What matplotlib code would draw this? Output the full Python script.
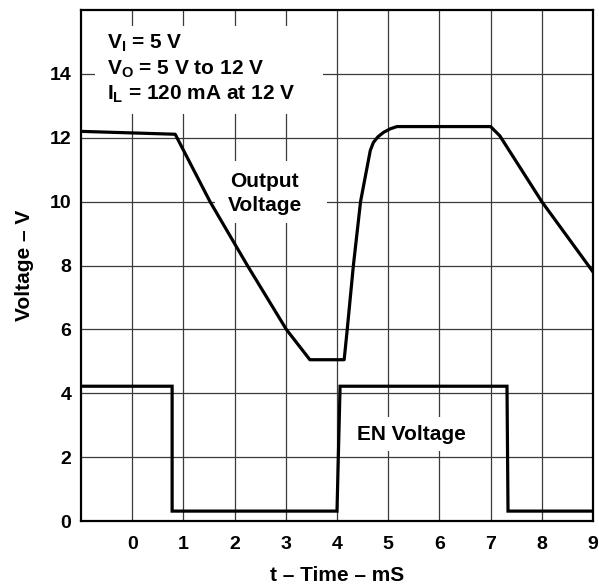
"""Output voltage / EN voltage transient vs time."""
import matplotlib
matplotlib.use("Agg")
import matplotlib.pyplot as plt
from matplotlib.patches import Rectangle

plt.rcParams["font.family"] = ["Liberation Sans", "DejaVu Sans"]
plt.rcParams["font.weight"] = "bold"
plt.rcParams["mathtext.fontset"] = "custom"
plt.rcParams["mathtext.rm"] = "Liberation Sans:bold"
plt.rcParams["mathtext.it"] = "Liberation Sans:bold"
plt.rcParams["mathtext.bf"] = "Liberation Sans:bold"

# data
out_t = [-1.0, 0.84, 1.52, 2.25, 3.01, 3.47, 4.14, 4.2, 4.32, 4.46, 4.55, 4.65, 4.71,
         4.8, 4.91, 5.04, 5.17, 7.0, 7.18, 8.0, 9.0]
out_v = [12.2, 12.11, 10.0, 8.0, 6.0, 5.05, 5.05, 6.0, 8.0, 10.0, 10.76, 11.6, 11.85,
         12.03, 12.17, 12.28, 12.35, 12.35, 12.06, 10.0, 7.8]

en_t = [-1.0, 0.78, 0.78, 4.0, 4.06, 7.32, 7.34, 9.0]
en_v = [4.22, 4.22, 0.31, 0.31, 4.22, 4.22, 0.31, 0.31]

x_ticks = list(range(0, 10))
y_ticks = [0, 2, 4, 6, 8, 10, 12, 14]

fig = plt.figure(figsize=(5.99, 5.85), dpi=100)
ax = fig.add_axes([0.1352, 0.1094, 0.8548, 0.8735])

ax.set_xlim(-1, 9)
ax.set_ylim(0, 16)
ax.set_xticks(x_ticks)
ax.set_yticks(y_ticks)
ax.tick_params(axis="x", length=0, labelsize=14, pad=11)
ax.tick_params(axis="y", length=0, labelsize=14, pad=7)
for lbl in ax.get_xticklabels() + ax.get_yticklabels():
    lbl.set_fontweight("bold")

# grid: every ms vertically, every 2 V horizontally
for xv in range(0, 9):
    ax.axvline(xv, color="#3a3a3a", lw=0.9, zorder=1)
for yv in range(2, 16, 2):
    ax.axhline(yv, color="#3a3a3a", lw=0.9, zorder=1)

for s in ax.spines.values():
    s.set_linewidth(1.6)
    s.set_zorder(5)

ax.plot(out_t, out_v, color="black", lw=2.3, zorder=4, solid_joinstyle="round")
ax.plot(en_t, en_v, color="black", lw=2.3, zorder=4, solid_joinstyle="miter")

# white boxes behind the labels
ax.add_patch(Rectangle((-0.73, 12.75), 4.46, 2.75, facecolor="white", edgecolor="none", zorder=2))
ax.add_patch(Rectangle((1.62, 9.34), 2.18, 1.94, facecolor="white", edgecolor="none", zorder=2))
ax.add_patch(Rectangle((4.1, 2.2), 2.7, 1.05, facecolor="white", edgecolor="none", zorder=2))

fs = 15
ax.text(-0.5, 14.95, r"V$_\mathregular{I}$ = 5 V", fontsize=fs, fontweight="bold", zorder=3, va="center")
ax.text(-0.5, 14.15, r"V$_\mathregular{O}$ = 5 V to 12 V", fontsize=fs, fontweight="bold", zorder=3, va="center")
ax.text(-0.5, 13.35, r"I$_\mathregular{L}$ = 120 mA at 12 V", fontsize=fs, fontweight="bold", zorder=3, va="center")

ax.text(2.59, 10.25, "Output\nVoltage", fontsize=fs, fontweight="bold", ha="center", va="center",
        linespacing=1.3, zorder=3)
ax.text(5.45, 2.7, "EN Voltage", fontsize=fs, fontweight="bold", ha="center", va="center", zorder=3)

ax.set_ylabel("Voltage \u2013 V", fontsize=15, fontweight="bold", labelpad=11)
ax.set_xlabel("t \u2013 Time \u2013 mS", fontsize=15, fontweight="bold", labelpad=9)

fig.savefig("out.png", dpi=100, facecolor="white")
